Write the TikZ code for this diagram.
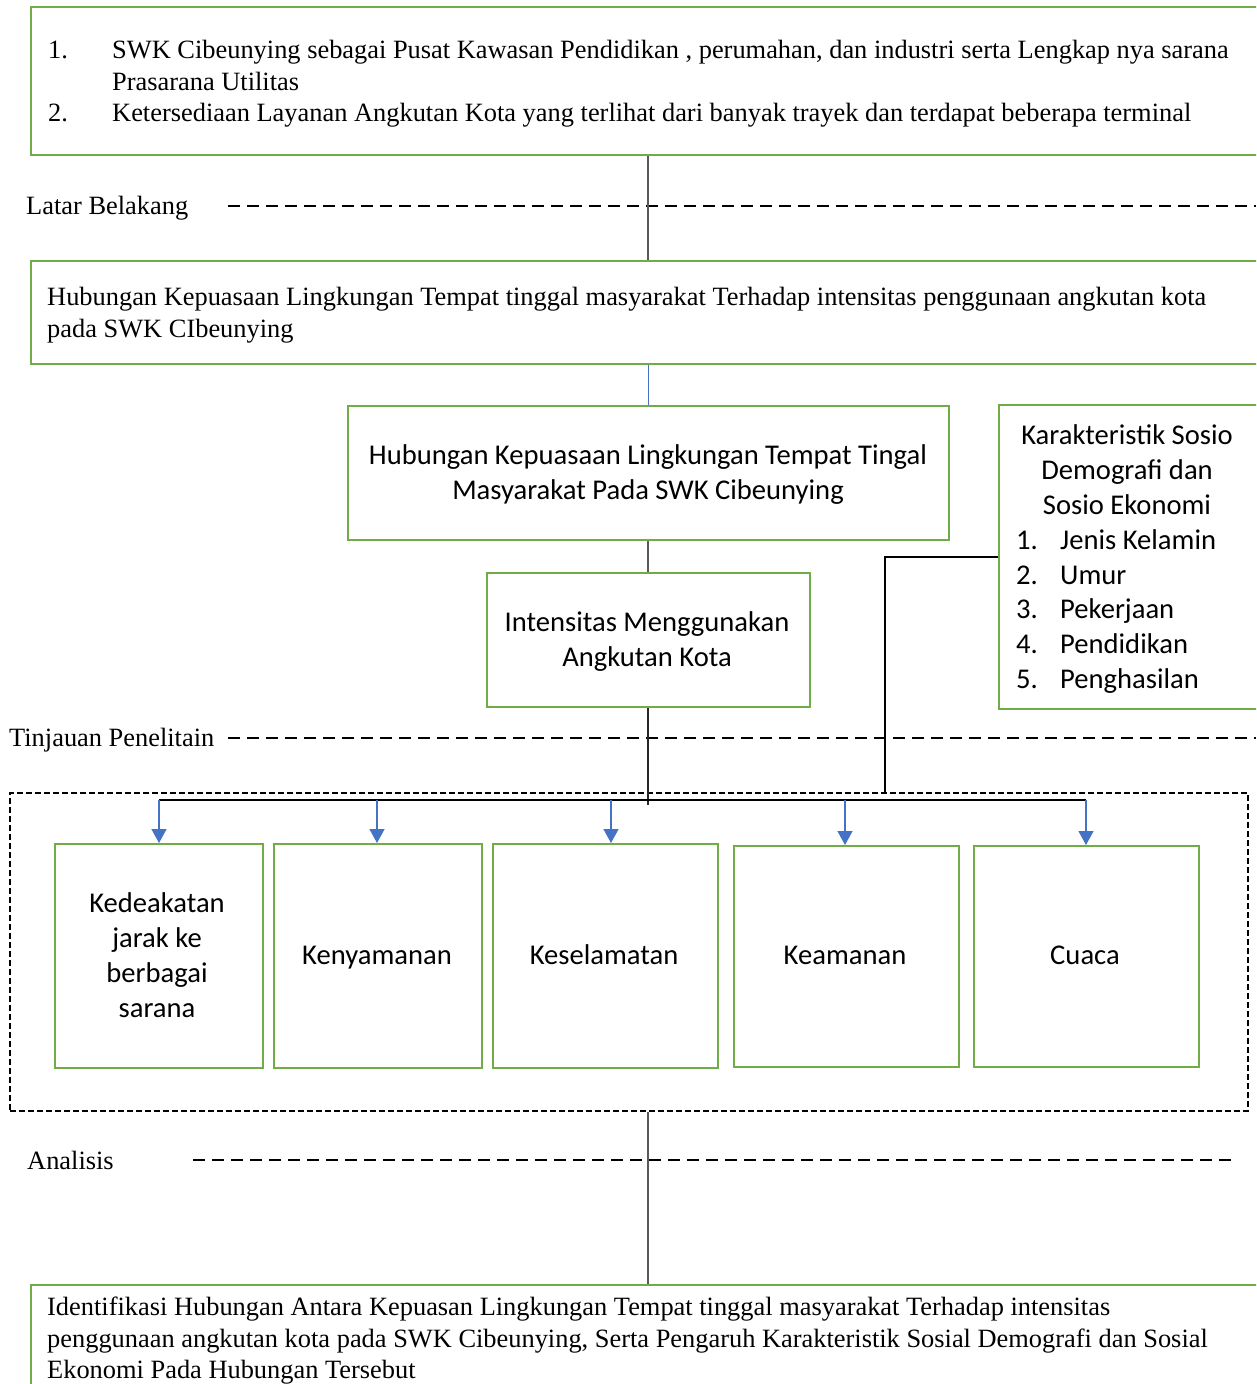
\documentclass[tikz,border=0pt]{standalone}
\usepackage{fontspec}
\setmainfont{Liberation Serif}
\newfontfamily\calib{Carlito}
\usetikzlibrary{arrows.meta}
\definecolor{gboxc}{HTML}{70AD47}
\definecolor{bluec}{HTML}{4472C4}
\definecolor{grayc}{HTML}{595959}
\tikzset{
  gbox/.style={draw=gboxc, line width=2.4pt, rectangle, inner sep=0pt, anchor=north west},
  sertxt/.style={inner sep=0pt, font=\fontsize{26.4}{32}\selectfont},
  caltxt/.style={inner sep=0pt, font=\calib\fontsize{28.6}{35}\selectfont},
  conn/.style={draw=grayc, line width=1.3pt},
  secline/.style={draw=black, line width=1.8pt, dash pattern=on 12pt off 7pt},
  boxdash/.style={draw=black, line width=1.5pt, dash pattern=on 6pt off 3pt},
  bluearr/.style={draw=bluec, line width=1.3pt, -{Triangle[width=15pt,length=14pt]}, color=bluec},
}
\begin{document}
\begin{tikzpicture}[x=1pt,y=-1pt]
\useasboundingbox (0,0) rectangle (1256,1384);
\fill[white] (0,0) rectangle (1256,1384);
\clip (0,0) rectangle (1256,1384);

% top box
\node[gbox, minimum width=1300pt, minimum height=148pt] (b1) at (30,6) {};
\node[sertxt, anchor=base west] (t1n) at (48,58) {1.};
\node[sertxt, anchor=base west] (t1a) at (112,58) {SWK Cibeunying sebagai Pusat Kawasan Pendidikan , perumahan, dan industri serta Lengkap nya sarana};
\node[sertxt, anchor=base west] (t1b) at (112,90) {Prasarana Utilitas};
\node[sertxt, anchor=base west] (t2n) at (48,121) {2.};
\node[sertxt, anchor=base west] (t2a) at (112,121) {Ketersediaan Layanan Angkutan Kota yang terlihat dari banyak trayek dan terdapat beberapa terminal};

% Latar Belakang
\node[sertxt, anchor=base west] (lb) at (26,214) {Latar Belakang};
\coordinate (lbs) at (228,206);
\coordinate (lbe) at (1256,206);
\draw[secline] (lbs) -- (lbe);

% box 2
\node[gbox, minimum width=1300pt, minimum height=103pt] (b2) at (30,260) {};
\node[sertxt, anchor=base west] (t3a) at (47,305) {Hubungan Kepuasaan Lingkungan Tempat tinggal masyarakat Terhadap intensitas penggunaan angkutan kota};
\node[sertxt, anchor=base west] (t3b) at (47,337) {pada SWK CIbeunying};

% box 3
\node[gbox, minimum width=601pt, minimum height=134pt] (b3) at (347,405) {};
\node[caltxt, anchor=base] (t4a) at (648,464) {Hubungan Kepuasaan Lingkungan Tempat Tingal};
\node[caltxt, anchor=base] (t4b) at (648,499) {Masyarakat Pada SWK Cibeunying};

% Karakteristik box
\node[gbox, minimum width=300pt, minimum height=304pt] (bk) at (998,404) {};
\node[caltxt, anchor=base] (k1) at (1127,444) {Karakteristik Sosio};
\node[caltxt, anchor=base] (k2) at (1127,479) {Demografi dan};
\node[caltxt, anchor=base] (k3) at (1127,514) {Sosio Ekonomi};
\node[caltxt, anchor=base west] (k4n) at (1016,549) {1.};
\node[caltxt, anchor=base west] (k4) at (1060,549) {Jenis Kelamin};
\node[caltxt, anchor=base west] (k5n) at (1016,584) {2.};
\node[caltxt, anchor=base west] (k5) at (1060,584) {Umur};
\node[caltxt, anchor=base west] (k6n) at (1016,618) {3.};
\node[caltxt, anchor=base west] (k6) at (1060,618) {Pekerjaan};
\node[caltxt, anchor=base west] (k7n) at (1016,653) {4.};
\node[caltxt, anchor=base west] (k7) at (1060,653) {Pendidikan};
\node[caltxt, anchor=base west] (k8n) at (1016,688) {5.};
\node[caltxt, anchor=base west] (k8) at (1060,688) {Penghasilan};

% Intensitas box
\node[gbox, minimum width=323pt, minimum height=134pt] (bi) at (486,572) {};
\node[caltxt, anchor=base] (i1) at (647,631) {Intensitas Menggunakan};
\node[caltxt, anchor=base] (i2) at (647,666) {Angkutan Kota};

% Tinjauan
\node[sertxt, anchor=base west] (tp) at (9,746) {Tinjauan Penelitain};
\coordinate (tps) at (228,738);
\coordinate (tpe) at (1256,738);
\draw[secline] (tps) -- (tpe);

% dashed container
\node[boxdash, rectangle, inner sep=0pt, anchor=north west, minimum width=1238pt, minimum height=318pt] (dbox) at (9,792) {};

% five boxes
\node[gbox, minimum width=208pt, minimum height=224pt] (s1) at (54,843) {};
\node[gbox, minimum width=208pt, minimum height=224pt] (s2) at (273,843) {};
\node[gbox, minimum width=225pt, minimum height=224pt] (s3) at (492,843) {};
\node[gbox, minimum width=225pt, minimum height=221pt] (s4) at (733,845) {};
\node[gbox, minimum width=225pt, minimum height=221pt] (s5) at (973,845) {};
\node[caltxt, anchor=base] (s1a) at (157,912) {Kedeakatan};
\node[caltxt, anchor=base] (s1b) at (157,947) {jarak ke};
\node[caltxt, anchor=base] (s1c) at (157,982) {berbagai};
\node[caltxt, anchor=base] (s1d) at (157,1017) {sarana};
\node[caltxt, anchor=base] (s2a) at (377,964) {Kenyamanan};
\node[caltxt, anchor=base] (s3a) at (604,964) {Keselamatan};
\node[caltxt, anchor=base] (s4a) at (845,964) {Keamanan};
\node[caltxt, anchor=base] (s5a) at (1085,964) {Cuaca};

% Analisis
\node[sertxt, anchor=base west] (an) at (27,1169) {Analisis};
\coordinate (ans) at (193,1160);
\coordinate (ane) at (1233,1160);
\draw[secline] (ans) -- (ane);

% bottom box
\node[gbox, minimum width=1300pt, minimum height=140pt] (b4) at (30,1284) {};
\node[sertxt, anchor=base west] (t5a) at (47,1315) {Identifikasi Hubungan Antara Kepuasan Lingkungan Tempat tinggal masyarakat Terhadap intensitas};
\node[sertxt, anchor=base west] (t5b) at (47,1347) {penggunaan angkutan kota pada SWK Cibeunying, Serta Pengaruh Karakteristik Sosial Demografi dan Sosial};
\node[sertxt, anchor=base west] (t5c) at (47,1378) {Ekonomi Pada Hubungan Tersebut};

% connectors
\coordinate (mx) at (648,0);
\draw[conn] (mx |- b1.south) -- (mx |- b2.north);
\draw[draw=bluec, line width=1pt] (mx |- b2.south) -- (mx |- b3.north);
\draw[conn] (mx |- b3.south) -- (mx |- bi.north);
\coordinate (busL) at (159,800);
\coordinate (busR) at (1086,800);
\coordinate (busM) at (648,805);
\draw[draw=black!85, line width=1.3pt] (mx |- bi.south) -- (busM);
\draw[draw=black, line width=1.3pt] (busL) -- (busR);
\coordinate (kj) at (885,557);
\draw[draw=black, line width=1.3pt] (bk.west |- kj) -- (kj) -- (kj |- dbox.north);
\draw[bluearr] (busL) -- (busL |- s1.north);
\draw[bluearr] (377,800) -- (377,843);
\draw[bluearr] (611,800) -- (611,843);
\draw[bluearr] (845,800) -- (845,845);
\draw[bluearr] (busR) -- (busR |- s5.north);
\draw[conn] (mx |- dbox.south) -- (mx |- b4.north);
\end{tikzpicture}
\end{document}
